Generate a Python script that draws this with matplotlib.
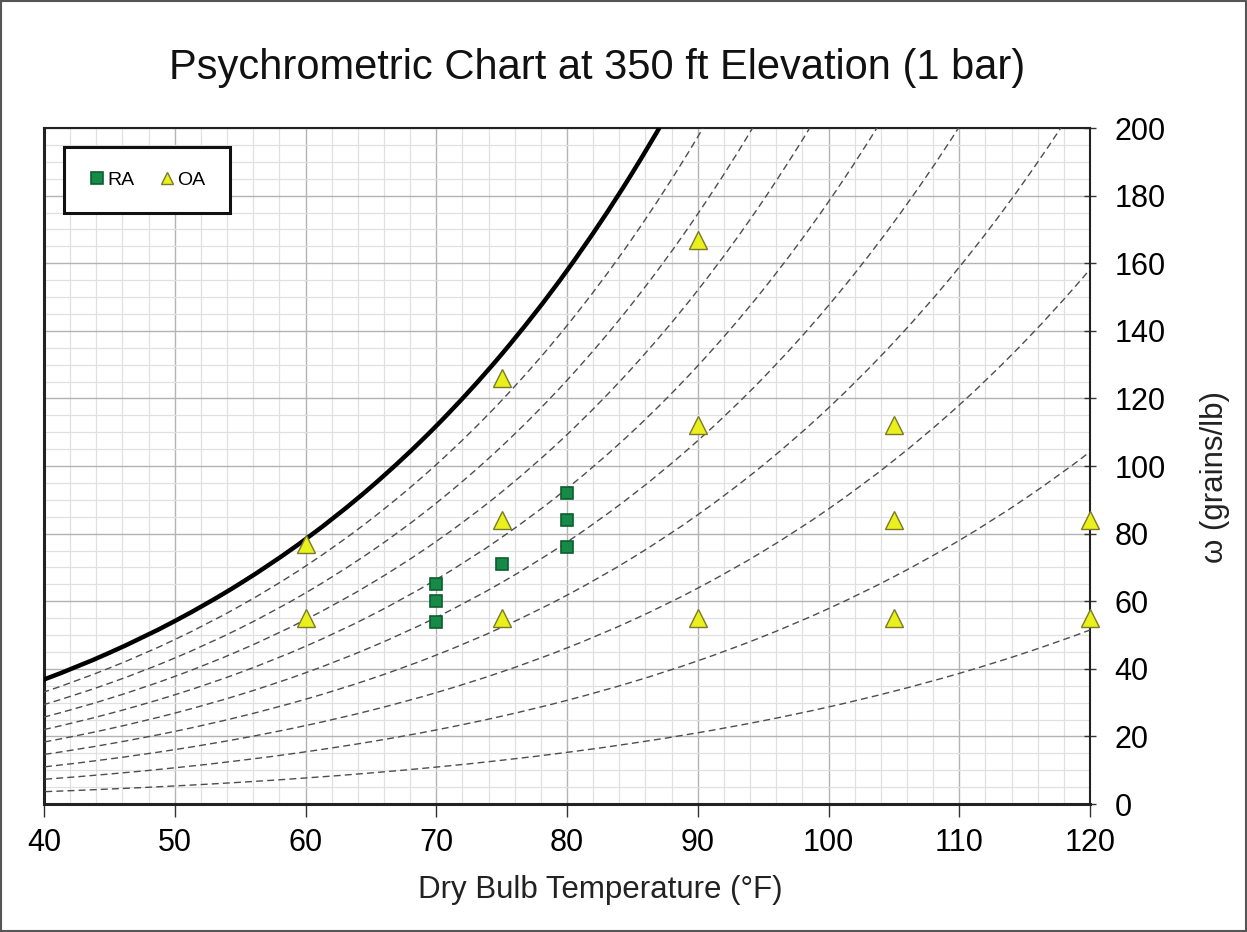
import numpy as np
import matplotlib.pyplot as plt
from matplotlib.patches import Rectangle, PathPatch
from matplotlib.path import Path

plt.rcParams['font.family'] = ['Liberation Sans', 'DejaVu Sans']

# saturation pressure of water (psia), steam table
temp_f = [35, 40, 45, 50, 55, 60, 65, 70, 75, 80, 85, 90, 95, 100, 105, 110, 115, 120, 125]
p_sat = [0.09998, 0.12173, 0.14757, 0.17813, 0.21413, 0.25639, 0.30579, 0.36334,
         0.43016, 0.50744, 0.59659, 0.69899, 0.81631, 0.95044, 1.1033, 1.2763,
         1.4731, 1.6951, 1.9451]
p_total = 14.504  # 1 bar in psia
rh_levels = [0.1, 0.2, 0.3, 0.4, 0.5, 0.6, 0.7, 0.8, 0.9]

# measured points (dry bulb F, grains/lb)
ra_t = [70, 70, 70, 75, 80, 80, 80]
ra_w = [54, 60, 65, 71, 76, 84, 92]
oa_t = [60, 60, 75, 75, 75, 90, 90, 90, 105, 105, 105, 120, 120]
oa_w = [77, 55, 126, 84, 55, 167, 112, 55, 112, 84, 55, 84, 55]

def grains(phi):
    pv = phi*np.array(p_sat)
    return 0.622*pv/(p_total-pv)*7000

def smooth_path(x, y):
    # bezier path through the table points (catmull-rom style handles)
    p = np.column_stack([x, y])
    p = np.vstack([p[0], p, p[-1]])
    verts = [p[1]]
    codes = [Path.MOVETO]
    for i in range(1, len(p)-2):
        c1 = p[i] + (p[i+1]-p[i-1])/6
        c2 = p[i+1] - (p[i+2]-p[i])/6
        verts += [c1, c2, p[i+1]]
        codes += [Path.CURVE4]*3
    return Path(verts, codes)

fig = plt.figure(figsize=(12.47, 9.32), dpi=100)
ax = fig.add_axes([0.0353, 0.1373, 0.8388, 0.7253])

T = np.array(temp_f)
for phi in rh_levels:
    ax.add_patch(PathPatch(smooth_path(T, grains(phi)), fill=False, edgecolor='#4d4d4d',
                           lw=1.0, ls=(0, (5, 3)), zorder=3))
ax.add_patch(PathPatch(smooth_path(T, grains(1.0)), fill=False, edgecolor='k', lw=3.2, zorder=4))

ax.plot(ra_t, ra_w, 's', ms=9, mfc='#178a47', mec='#0b5e2e', mew=1.2, ls='none', label='RA', zorder=5)
ax.plot(oa_t, oa_w, '^', ms=13, mfc='#e9f01c', mec='#7a7a2a', mew=1.0, ls='none', label='OA', zorder=5,
        clip_on=False)

ax.set_xlim(40, 120)
ax.set_ylim(0, 200)
ax.set_xticks(np.arange(40, 121, 10))
ax.set_xticks(np.arange(40, 121, 2), minor=True)
ax.set_yticks(np.arange(0, 201, 20))
ax.set_yticks(np.arange(0, 201, 5), minor=True)
ax.grid(which='minor', color='#e0e0e0', lw=0.9)
ax.grid(which='major', color='#b3b3b3', lw=1.0)
ax.set_axisbelow(True)

ax.yaxis.tick_right()
ax.yaxis.set_label_position('right')
ax.tick_params(axis='y', which='major', direction='inout', length=9, width=1, pad=13, labelsize=22, color='#333333')
ax.tick_params(axis='x', which='major', direction='out', length=9, width=1, pad=8, labelsize=22, color='#333333')
ax.tick_params(which='minor', length=0)
for s in ['left', 'bottom']:
    ax.spines[s].set_linewidth(2.2)
for s in ['right', 'top']:
    ax.spines[s].set_linewidth(1.5)
for s in ax.spines.values():
    s.set_color('#222222')

ax.set_xlabel('Dry Bulb Temperature (°F)', fontsize=22.5, color='#222222', va='center')
ax.xaxis.set_label_coords(0.5315, -0.127)
ax.set_ylabel('ω (grains/lb)', fontsize=22.5, color='#222222', va='center')
ax.yaxis.set_label_coords(1.1195, 0.484)
fig.text(0.479, 0.927, 'Psychrometric Chart at 350 ft Elevation (1 bar)', ha='center', va='center',
         fontsize=30, color='#111111')

leg = ax.legend(loc='upper left', bbox_to_anchor=(0.019, 0.972), ncol=2, fontsize=14,
                frameon=True, fancybox=False, borderpad=1.25, handletextpad=0.1,
                columnspacing=1.2, handlelength=0.9, borderaxespad=0)
leg.get_frame().set_edgecolor('#111111')
leg.get_frame().set_linewidth(2.2)
leg.get_frame().set_alpha(1)
for h in leg.legend_handles:
    h.set_markersize(8)

fig.patches.append(Rectangle((0.001, 0.001), 0.998, 0.998, transform=fig.transFigure,
                             fill=False, edgecolor='#555555', lw=1.5))

plt.savefig('out.png', dpi=100)
